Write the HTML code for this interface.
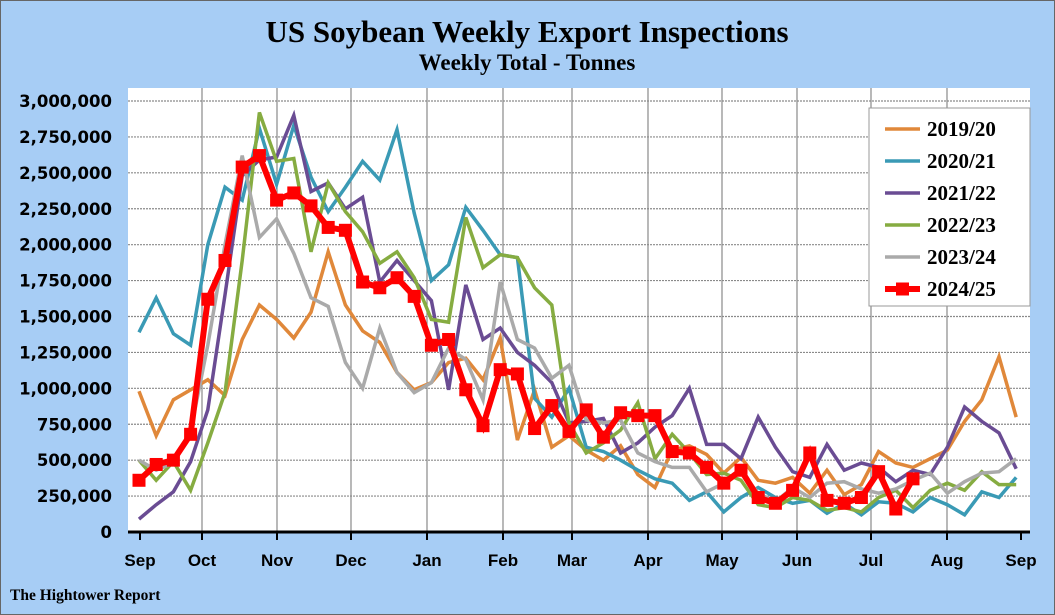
<!DOCTYPE html>
<html><head><meta charset="utf-8"><style>
html,body{margin:0;padding:0}
body{width:1055px;height:615px;background:#a7cdf5;overflow:hidden;font-family:"Liberation Sans",sans-serif}
svg{display:block}
</style></head><body>
<svg id="chart" width="1055" height="615" xmlns="http://www.w3.org/2000/svg">
<rect x="0.5" y="0.5" width="1054" height="614" fill="#a7cdf5" stroke="#666"/>
<text x="527" y="42" text-anchor="middle" font-family="Liberation Serif,serif" font-weight="bold" font-size="31" fill="#000">US Soybean Weekly Export Inspections</text>
<text x="527" y="70" text-anchor="middle" font-family="Liberation Serif,serif" font-weight="bold" font-size="23" fill="#000">Weekly Total - Tonnes</text>
<rect x="128" y="88" width="902" height="444" fill="#fff"/>
<g id="grid"></g>
<g id="series"></g>
<g id="axes"></g>
<g id="legend"></g>
<text x="10" y="600" font-family="Liberation Serif,serif" font-weight="bold" font-size="15.5">The Hightower Report</text>
</svg>
<script>
const months=["Sep","Oct","Nov","Dec","Jan","Feb","Mar","Apr","May","Jun","Jul","Aug","Sep"];
const yTicks=[0,250000,500000,750000,1000000,1250000,1500000,1750000,2000000,2250000,2500000,2750000,3000000];
const seriesNames=["2019/20","2020/21","2021/22","2022/23","2023/24","2024/25"];
const s2019=[980,670,920,990,1060,950,1340,1580,1480,1350,1530,1950,1580,1400,1320,1110,990,1040,1180,1210,1060,1350,640,990,590,670,570,500,600,400,310,570,600,540,410,520,360,340,380,270,430,260,330,560,480,450,510,570,770,920,1220,800];
const s2020=[1390,1630,1380,1300,2000,2400,2310,2810,2420,2830,2470,2230,2400,2580,2450,2800,2220,1750,1860,2260,2100,1930,1910,930,800,1000,590,560,500,430,370,340,220,280,140,240,310,240,200,220,130,200,120,210,200,140,240,190,120,280,240,380];
const s2021=[90,190,280,490,850,1650,2480,2590,2610,2900,2370,2430,2250,2330,1740,1890,1750,1610,990,1720,1340,1420,1250,1160,1040,760,770,790,550,620,730,810,1000,610,610,510,800,590,420,380,610,430,480,450,350,430,400,590,870,770,690,440];
const s2022=[500,360,490,290,620,970,1890,2920,2580,2600,1950,2430,2230,2090,1870,1950,1770,1480,1460,2190,1840,1930,1910,1700,1580,760,550,620,710,900,510,680,550,400,410,360,190,170,240,220,150,170,140,240,290,170,290,340,290,420,330,330];
const s2023=[500,430,480,700,1300,2000,2620,2050,2180,1940,1630,1570,1180,1000,1420,1110,970,1040,1280,1200,920,1740,1340,1280,1070,1160,780,760,780,550,490,450,450,280,340,420,270,210,310,240,340,350,300,270,300,360,410,270,350,410,420,510];
const s2024=[360,470,500,680,1620,1890,2540,2620,2310,2360,2270,2120,2100,1740,1700,1770,1640,1300,1340,990,740,1130,1100,720,880,700,850,660,830,810,810,560,550,450,340,430,240,200,290,550,220,200,240,420,160,370];
const colors=["#e0883a","#3a9ab5","#6a4c93","#86ac41","#aaaaaa","#ff0000"];
const allSeries=[s2019,s2020,s2021,s2022,s2023,s2024];
const NS="http://www.w3.org/2000/svg";
const X0=139,WK=17.2,Y0=532,YTOP=101,YMAX=3000000;
const monthScale=[140,202,277,351,427,503,572,648,722,797,871,947,1021];
const xW=i=>X0+i*WK;
const xM=m=>monthScale[m];
const yV=v=>Y0-(v/YMAX)*(Y0-YTOP);
function mk(tag,attrs,parent){const e=document.createElementNS(NS,tag);for(const k in attrs)e.setAttribute(k,attrs[k]);parent.appendChild(e);return e;}
const grid=document.getElementById('grid'),axes=document.getElementById('axes'),ser=document.getElementById('series'),leg=document.getElementById('legend');
yTicks.forEach((t,i)=>{
  if(i>0){const l=mk('line',{x1:128,x2:1030,y1:yV(t),y2:yV(t),stroke:'#8a8a8a','stroke-width':1.2,'stroke-dasharray':'2,1'},grid);
  
  }
  const tx=mk('text',{x:112,y:yV(t)+6,'text-anchor':'end','font-weight':'bold','font-size':16.5,'font-family':'DejaVu Sans,sans-serif'},axes);
  tx.textContent=t.toLocaleString('en-US');
  
  
});
months.forEach((m,i)=>{
  const x=xM(i);
  if(i>0&&i<12){const l=mk('line',{x1:x,x2:x,y1:88,y2:532,stroke:'#8a8a8a','stroke-width':1.2},grid);
  
  }
  const tk=mk('line',{x1:x,x2:x,y1:532,y2:540,stroke:'#000','stroke-width':2},axes);
  
  
  const tx=mk('text',{x:x,y:566,'text-anchor':'middle','font-weight':'bold','font-size':17},axes);
  tx.textContent=m;
  
  
});
const ax=mk('line',{x1:128,x2:1030,y1:532,y2:532,stroke:'#000','stroke-width':3},axes);


allSeries.forEach((s,k)=>{
  const pts=s.map((v,i)=>xW(i).toFixed(1)+','+yV(v*1000).toFixed(1)).join(' ');
  const last=k===5;
  const p=mk('polyline',{points:pts,fill:'none',stroke:colors[k],'stroke-width':last?6:3.5,'stroke-linejoin':'miter'},ser);
  
  
  if(last){s.forEach((v,i)=>{
    const r=mk('rect',{x:xW(i)-6.5,y:yV(v*1000)-6.5,width:13,height:13,fill:'#ff0000'},ser);
    
    
  });}
});
const lb=mk('rect',{x:869,y:108,width:161,height:198,fill:'#fff',stroke:'#999'},leg);


seriesNames.forEach((n,k)=>{
  const y=129+k*32;
  const l=mk('line',{x1:885,x2:920,y1:y,y2:y,stroke:colors[k],'stroke-width':k===5?6:3.5},leg);
  
  
  if(k===5){const r=mk('rect',{x:896,y:y-6.5,width:13,height:13,fill:'#ff0000'},leg);
  
  }
  const t=mk('text',{x:927,y:y+7,'font-family':'Liberation Serif,serif','font-weight':'bold','font-size':21},leg);
  t.textContent=n;
  
  
});
</script>
</body></html>
